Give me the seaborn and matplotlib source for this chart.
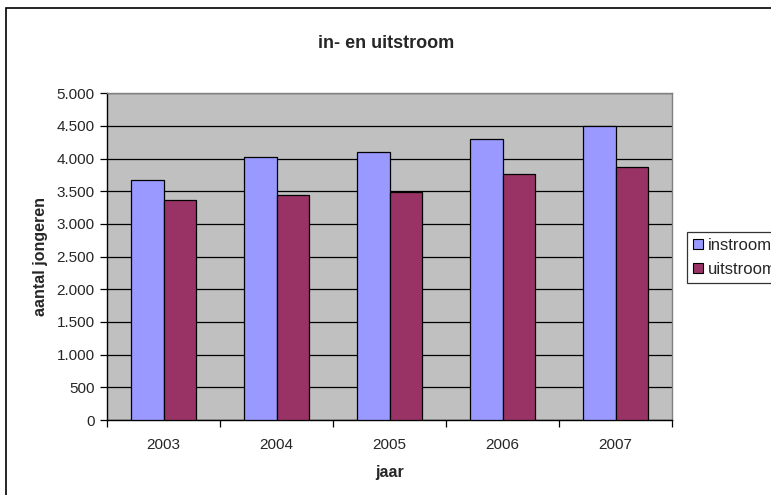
import matplotlib
matplotlib.use("Agg")
import matplotlib.pyplot as plt
from matplotlib.patches import Patch, Rectangle
from matplotlib.ticker import FuncFormatter, FixedLocator
import seaborn as sns
import pandas as pd

# Data
jaren = ["2003", "2004", "2005", "2006", "2007"]
instroom = [3680, 4020, 4105, 4300, 4495]
uitstroom = [3370, 3450, 3485, 3770, 3875]
reeksen = ["instroom", "uitstroom"]
kleuren = ["#9999FF", "#993366"]

df = pd.DataFrame({
    "jaar": jaren * 2,
    "aantal": instroom + uitstroom,
    "reeks": [reeksen[0]] * len(jaren) + [reeksen[1]] * len(jaren),
})

sns.set_theme(style="white")
plt.rcParams["font.family"] = ["Liberation Sans", "DejaVu Sans"]

fig = plt.figure(figsize=(7.71, 4.95), dpi=100)
ax = fig.add_axes([107 / 771, 1 - 420 / 495, 565 / 771, 326.7 / 495])

sns.barplot(data=df, x="jaar", y="aantal", hue="reeks", palette=kleuren,
            width=0.57, gap=0, edgecolor="black", linewidth=0.9,
            saturation=1, legend=False, ax=ax, zorder=3)

ax.set_facecolor("#C0C0C0")
ax.set_ylim(0, 5000)
ax.set_xlim(-0.5, len(jaren) - 0.5)
ax.set_yticks(range(0, 5001, 500))
ax.yaxis.set_major_formatter(FuncFormatter(lambda v, p: f"{int(v):,}".replace(",", ".")))
ax.grid(axis="y", color="black", linewidth=0.9, zorder=1)
ax.set_axisbelow(True)

# category boundary ticks on the x axis
ax.xaxis.set_minor_locator(FixedLocator([i - 0.5 for i in range(len(jaren) + 1)]))
ax.tick_params(axis="x", which="major", length=0, labelsize=11, pad=13)
ax.tick_params(axis="x", which="minor", bottom=True, length=5, width=0.9, color="black")
ax.tick_params(axis="y", left=True, length=5, width=0.9, color="black", labelsize=11, pad=4)

for s in ["top", "right"]:
    ax.spines[s].set_color("#808080")
    ax.spines[s].set_linewidth(1)
for s in ["left", "bottom"]:
    ax.spines[s].set_color("black")
    ax.spines[s].set_linewidth(1)

ax.set_xlabel("jaar", fontsize=11.5, fontweight="bold", labelpad=9)
ax.set_ylabel("aantal jongeren", fontsize=11.5, fontweight="bold", labelpad=6)

fig.text(386 / 771, 1 - 43 / 495, "in- en uitstroom", ha="center", va="center",
         fontsize=13, fontweight="bold")

handles = [Patch(facecolor=c, edgecolor="black", linewidth=0.8) for c in kleuren]
leg = fig.legend(handles, reeksen, loc="upper left",
                 bbox_to_anchor=(687 / 771, 1 - 232 / 495),
                 fontsize=12, frameon=True, fancybox=False,
                 handlelength=0.6, handleheight=0.6, handletextpad=0.3,
                 borderpad=0.35, labelspacing=0.55, borderaxespad=0)
leg.get_frame().set_edgecolor("black")
leg.get_frame().set_linewidth(0.9)

# chart area frame
fig.patches.append(Rectangle((6 / 771, -0.1), 1.2, 1 - 8 / 495 + 0.1,
                             transform=fig.transFigure, fill=False,
                             edgecolor="black", linewidth=1.2))

fig.savefig("out.png", dpi=100)
